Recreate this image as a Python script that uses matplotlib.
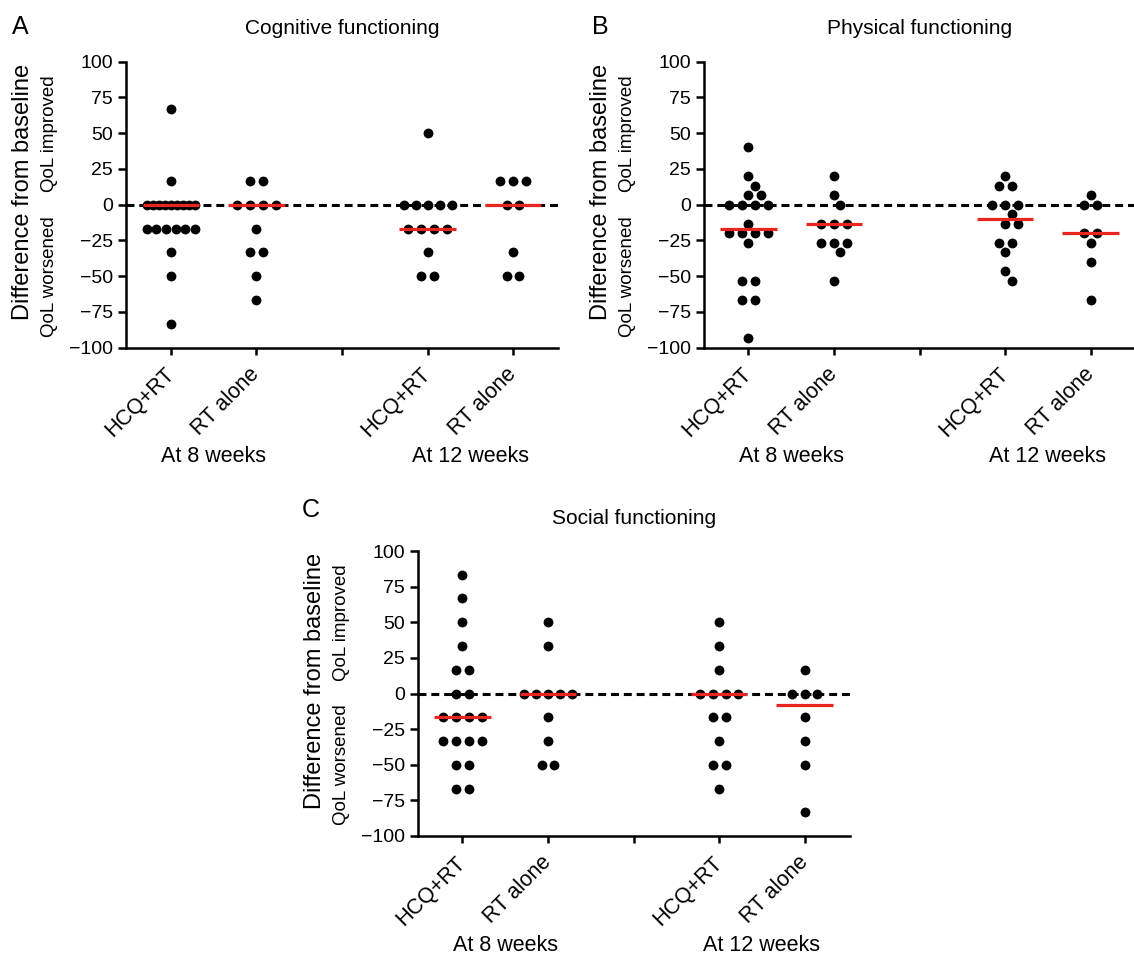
import numpy as np
import matplotlib
matplotlib.use("Agg")
from matplotlib import pyplot as plt

plt.rcParams['font.family'] = ['Liberation Sans', 'DejaVu Sans']

# Data (change from baseline, QoL score)
groups = ["HCQ+RT", "RT alone", "HCQ+RT", "RT alone"]
group_pos = [1, 2, 4, 5]
timepoints = ["At 8 weeks", "At 12 weeks"]
timepoint_pos = [1.5, 4.5]
y_ticks = [-100, -75, -50, -25, 0, 25, 50, 75, 100]

cog_hcq_8w = [66.7, 16.7, 0, 0, 0, 0, 0, 0, 0, 0, 0, -16.7, -16.7, -16.7, -16.7, -16.7, -16.7, -33.3, -50, -83.3]
cog_rt_8w = [16.7, 16.7, 0, 0, 0, 0, -16.7, -33.3, -33.3, -50, -66.7]
cog_hcq_12w = [50, 0, 0, 0, 0, 0, -16.7, -16.7, -16.7, -16.7, -33.3, -50, -50]
cog_rt_12w = [16.7, 16.7, 16.7, 0, 0, -33.3, -50, -50]

phys_hcq_8w = [40, 20, 13.3, 6.7, 6.7, 0, 0, 0, 0, -13.3, -20, -20, -20, -20, -26.7, -53.3, -53.3, -66.7, -66.7, -93.3]
phys_rt_8w = [20, 6.7, 0, -13.3, -13.3, -13.3, -26.7, -26.7, -26.7, -33.3, -53.3]
phys_hcq_12w = [20, 13.3, 13.3, 0, 0, 0, -6.7, -13.3, -13.3, -26.7, -26.7, -33.3, -46.7, -53.3]
phys_rt_12w = [6.7, 0, 0, -20, -20, -26.7, -40, -66.7]

soc_hcq_8w = [83.3, 66.7, 50, 33.3, 16.7, 16.7, 0, 0, -16.7, -16.7, -16.7, -16.7, -33.3, -33.3, -33.3, -33.3, -50, -50, -66.7, -66.7]
soc_rt_8w = [50, 33.3, 0, 0, 0, 0, 0, -16.7, -33.3, -50, -50]
soc_hcq_12w = [50, 33.3, 16.7, 0, 0, 0, 0, -16.7, -16.7, -33.3, -50, -50, -66.7]
soc_rt_12w = [16.7, 0, 0, 0, -16.7, -33.3, -50, -83.3]

W, H = 1134, 955
XLIM = (0.48, 5.53)
YLIM = (-100, 100)


def swarm_offsets(values, px_per_y, spacing=12.8, max_width=48, clearance=11):
    # rows of equal values are centred, nearby rows get nudged sideways
    vals = np.asarray(values, dtype=float)
    offsets = np.zeros(len(vals))
    placed = []
    for v in sorted(set(vals), reverse=True):
        idx = np.where(vals == v)[0]
        n = len(idx)
        step = spacing if n < 2 else min(spacing, max_width / (n - 1))
        base = (np.arange(n) - (n - 1) / 2) * step
        y = v * px_per_y
        for k in [0, 1, -1, 2, -2, 3, -3, 4, -4]:
            xs = base + k * spacing / 2
            if all(np.hypot(x - px, y - py) >= clearance for x in xs for px, py in placed):
                break
        offsets[idx] = xs
        placed += [(x, y) for x in xs]
    return offsets


def panel(letter, title, series, left, top, width=432, height=286, letter_xy=None):
    ax = plt.gcf().add_axes([left / W, 1 - (top + height) / H, width / W, height / H])
    ax.set_xlim(*XLIM)
    ax.set_ylim(*YLIM)
    px_per_x = width / (XLIM[1] - XLIM[0])
    px_per_y = height / (YLIM[1] - YLIM[0])

    ax.axhline(0, color="black", lw=2.2, ls=(0, (2.6, 1.6)), zorder=2)
    for pos, vals in zip(group_pos, series):
        off = swarm_offsets(vals, px_per_y)
        ax.scatter(pos + off / px_per_x, vals, s=50, color="black", linewidths=0,
                   zorder=3, clip_on=False)
        ax.hlines(np.median(vals), pos - 0.33, pos + 0.33, color="#e8251f", lw=2.3, zorder=4)

    for s in ["top", "right"]:
        ax.spines[s].set_visible(False)
    for s in ["left", "bottom"]:
        ax.spines[s].set_linewidth(1.8)
    ax.set_yticks(y_ticks)
    ax.set_xticks([1, 2, 3, 4, 5])
    ax.set_xticklabels(groups[:2] + [""] + groups[2:], rotation=45, ha="right", va="center",
                       rotation_mode="anchor", fontsize=15.5)
    ax.tick_params(axis="y", length=6, width=1.8, labelsize=14, pad=3.5)
    ax.tick_params(axis="x", length=5, width=1.8, pad=12)

    fig = plt.gcf()
    fig.text(letter_xy[0] / W, 1 - letter_xy[1] / H, letter, fontsize=18, ha="left", va="top")
    fig.text((left + width / 2) / W, 1 - (top - 33) / H, title, fontsize=15, ha="center", va="center")

    def ypx(v):
        return top + (YLIM[1] - v) * px_per_y

    fig.text((left - 103) / W, 1 - ypx(9) / H, "Difference from baseline", fontsize=17,
             rotation=90, ha="center", va="center")
    fig.text((left - 77) / W, 1 - ypx(50) / H, "QoL improved", fontsize=13.5,
             rotation=90, ha="center", va="center")
    fig.text((left - 77) / W, 1 - ypx(-50) / H, "QoL worsened", fontsize=13.5,
             rotation=90, ha="center", va="center")
    for tp, label in zip(timepoint_pos, timepoints):
        x = left + (tp - XLIM[0]) * px_per_x
        fig.text(x / W, 1 - (top + height + 109) / H, label, fontsize=15.5, ha="center", va="center")
    return ax


fig = plt.figure(figsize=(W / 100, H / 100), dpi=100)

panel("A", "Cognitive functioning", [cog_hcq_8w, cog_rt_8w, cog_hcq_12w, cog_rt_12w],
      left=126.4, top=61.7, letter_xy=(12, 15))
panel("B", "Physical functioning", [phys_hcq_8w, phys_rt_8w, phys_hcq_12w, phys_rt_12w],
      left=704, top=61.7, letter_xy=(592, 15))
panel("C", "Social functioning", [soc_hcq_8w, soc_rt_8w, soc_hcq_12w, soc_rt_12w],
      left=418, top=551, height=285, letter_xy=(302, 498))

fig.savefig("out.png", dpi=100)
